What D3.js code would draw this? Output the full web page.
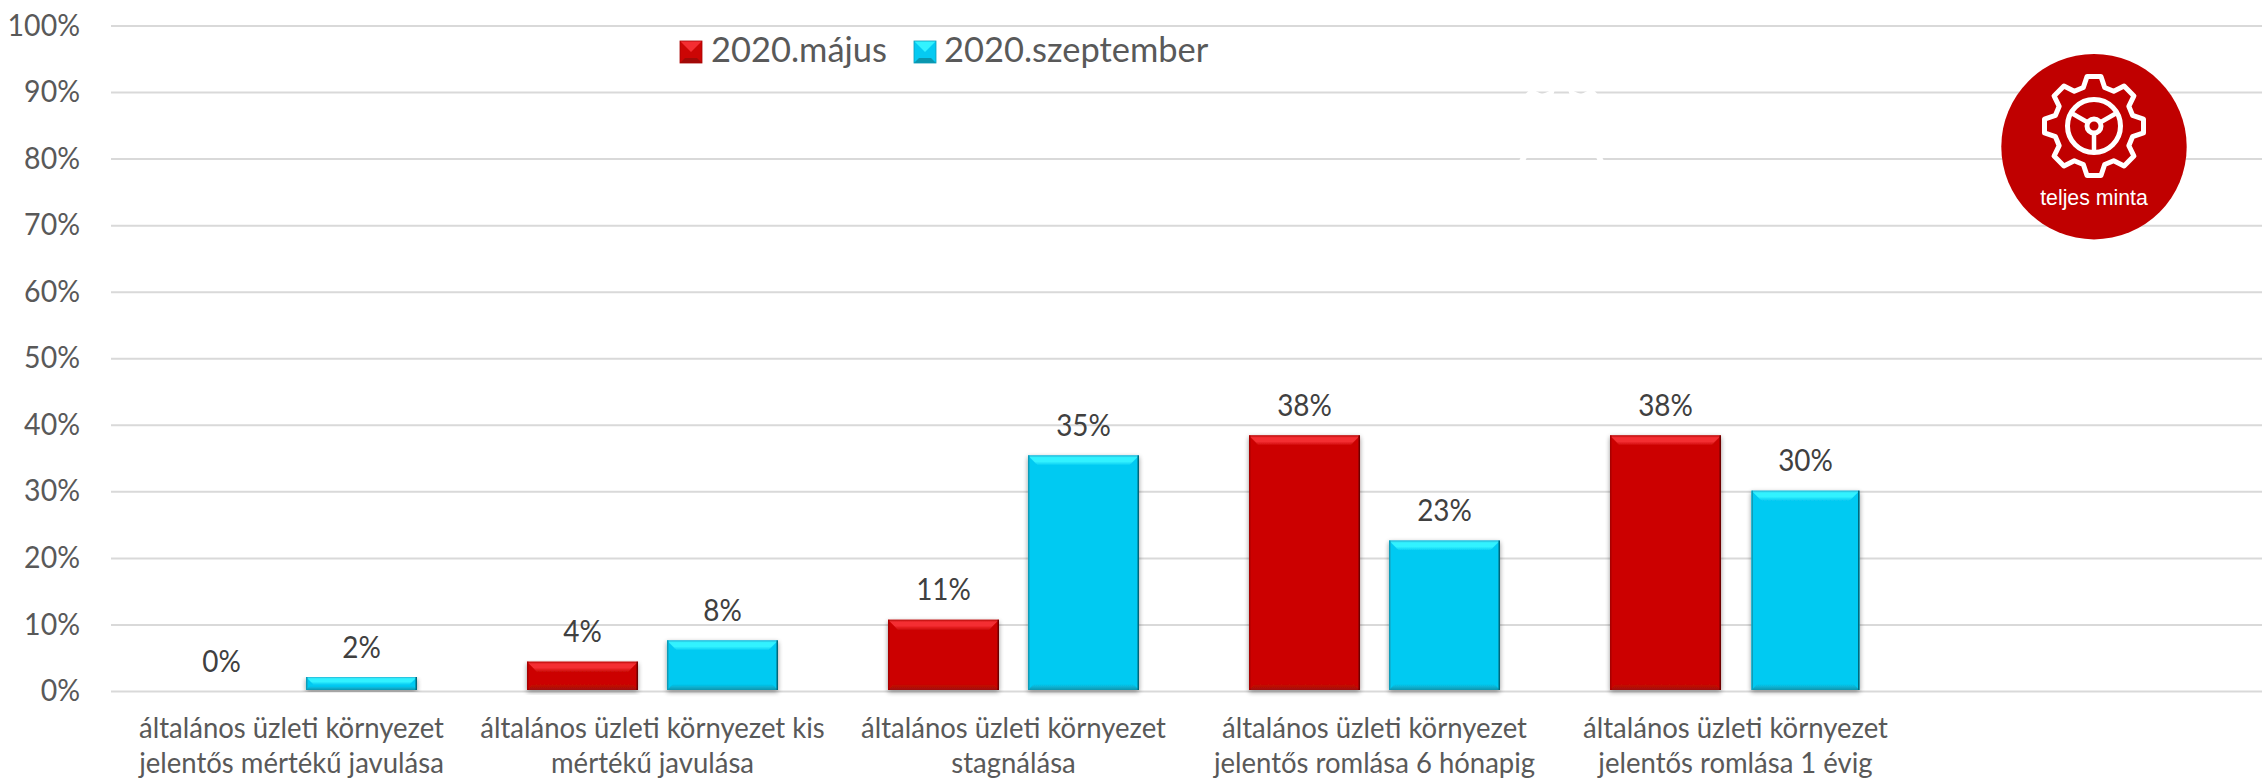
<!DOCTYPE html>
<html>
<head>
<meta charset="utf-8">
<script src="https://cdn.jsdelivr.net/npm/d3@7"></script>
<style>
html,body{margin:0;padding:0;background:#fff}
svg{display:block}
text{font-family:Lato,"Open Sans",sans-serif}
</style>
</head>
<body>
<div id="chart"></div>
<script>
const categories = [
  ["általános üzleti környezet","jelentős mértékű javulása"],
  ["általános üzleti környezet kis","mértékű javulása"],
  ["általános üzleti környezet","stagnálása"],
  ["általános üzleti környezet","jelentős romlása 6 hónapig"],
  ["általános üzleti környezet","jelentős romlása 1 évig"]
];
const seriesNames = ["2020.május","2020.szeptember"];
const may = [0, 4.4, 10.7, 38.4, 38.4];
const september = [2.1, 7.6, 35.4, 22.6, 30.1];
const yTicks = [0,10,20,30,40,50,60,70,80,90,100];
const badgeLabel = "teljes minta";

const W = 2262, H = 779;
const left = 111, top0 = 25.5, bottom0 = 691;
const catStep = 361;
const FONT = 30;

const palette = [
  {base:"#CC0605", edge:"#B80808", hi:"#F42E32", low:"#A00A08", l:"#A80404", r:"#6E0202"},
  {base:"#05CAF2", edge:"#25B5D5", hi:"#33F2FF", low:"#0A96AE", l:"#0C9CB8", r:"#05677C"}
];

const svg = d3.select("#chart").append("svg").attr("width",W).attr("height",H);
const defs = svg.append("defs");

const f = defs.append("filter").attr("id","shadow").attr("x","-10%").attr("y","-10%").attr("width","120%").attr("height","125%");
f.append("feGaussianBlur").attr("in","SourceAlpha").attr("stdDeviation",2.4).attr("result","b");
f.append("feOffset").attr("in","b").attr("dy",2).attr("result","o");
f.append("feComponentTransfer").attr("in","o").attr("result","c").append("feFuncA").attr("type","linear").attr("slope",0.42);
const fm = f.append("feMerge");
fm.append("feMergeNode").attr("in","c");
fm.append("feMergeNode").attr("in","SourceGraphic");

palette.forEach((p,i)=>{
  const g = defs.append("linearGradient").attr("id","top"+i).attr("x1",0).attr("x2",0).attr("y1",0).attr("y2",1);
  [[0,p.edge],[0.22,p.hi],[0.6,p.hi],[1,p.base]].forEach(s=>g.append("stop").attr("offset",s[0]).attr("stop-color",s[1]));
  const b = defs.append("linearGradient").attr("id","bot"+i).attr("x1",0).attr("x2",0).attr("y1",0).attr("y2",1);
  [[0,p.base],[1,p.low]].forEach(s=>b.append("stop").attr("offset",s[0]).attr("stop-color",s[1]));
});

const x = d3.scaleBand().domain(d3.range(categories.length)).range([left,left+catStep*categories.length]);
const y = d3.scaleLinear().domain([0,100]).range([bottom0,top0]);
const inner = d3.scaleBand().domain([0,1]).range([x.bandwidth()/2-125.5,x.bandwidth()/2+125.5]).paddingInner(0.207).paddingOuter(0);

// grid + y axis
const yAxis = d3.axisLeft(y).tickValues(yTicks).tickFormat(d=>d+"%").tickSize(0).tickPadding(0);
const yG = svg.append("g").attr("transform",`translate(${left},0)`).call(yAxis);
yG.select(".domain").remove();
yG.selectAll("text").attr("font-size",FONT).attr("fill","#595959").attr("dy","0.32em").attr("x",null)
  .attr("transform","translate(-31,0) scale(0.95,1)");
yG.selectAll(".tick").append("line").attr("class","grid").attr("x1",0).attr("x2",W-left).attr("stroke","#D9D9D9").attr("stroke-width",2);

// gear helper
function gearPath(R,r){
  const pts=[], n=8;
  for(let i=0;i<n;i++){
    const a=i*2*Math.PI/n;
    [[-0.27,r],[-0.14,R],[0.14,R],[0.27,r]].forEach(p=>pts.push([a+p[0],p[1]]));
  }
  return d3.lineRadial().curve(d3.curveLinearClosed)(pts);
}

// white artefact over the grid
svg.append("path").attr("transform","translate(1561.5,132)").attr("d",gearPath(50,40))
  .attr("fill","none").attr("stroke","#fff").attr("stroke-width",5.5).attr("stroke-linejoin","round");

// bars
function bevelBar(g,d){
  const {bx,by,w,h,s}=d, p=palette[s];
  const t=Math.min(10,h*0.6), u=Math.min(6,h*0.3), c=Math.min(10,t);
  g.append("rect").attr("x",bx).attr("y",by).attr("width",w).attr("height",h).attr("fill",p.base);
  g.append("polygon").attr("points",[[bx,by],[bx+w,by],[bx+w-c,by+t],[bx+c,by+t]].join(" ")).attr("fill",`url(#top${s})`);
  g.append("polygon").attr("points",[[bx,by+h],[bx+w,by+h],[bx+w-u,by+h-u],[bx+u,by+h-u]].join(" ")).attr("fill",`url(#bot${s})`);
  g.append("rect").attr("x",bx).attr("y",by).attr("width",1.5).attr("height",h).attr("fill",p.l);
  g.append("rect").attr("x",bx+w-1.5).attr("y",by).attr("width",1.5).attr("height",h).attr("fill",p.r);
}
const barData=[];
[may,september].forEach((vals,s)=>vals.forEach((v,i)=>{
  let w=inner.bandwidth(), bx=x(i)+inner(s);
  if(s===1 && i===categories.length-1){ bx+=1.5; w-=3; }
  barData.push({v,i,s,bx,w,by:y(v),h:y(0)-1-y(v)});
}));
const bars=svg.append("g").selectAll("g").data(barData.filter(d=>d.v>0)).join("g").attr("filter","url(#shadow)");
bars.each(function(d){bevelBar(d3.select(this),d);});

// value labels
svg.append("g").selectAll("text").data(barData).join("text")
  .attr("transform",d=>`translate(${d.bx+d.w/2},${d.by-19.5}) scale(0.93,1)`)
  .attr("text-anchor","middle").attr("font-size",FONT).attr("fill","#404040")
  .text(d=>d3.format(".0f")(d.v)+"%");

// category axis
const xAxis=d3.axisBottom(x).tickSize(0).tickFormat("");
const xG=svg.append("g").attr("transform",`translate(0,${bottom0})`).call(xAxis);
xG.select(".domain").remove();
xG.selectAll(".tick text").remove();
xG.selectAll(".tick").each(function(i){
  const t=d3.select(this).append("text").attr("text-anchor","middle").attr("font-size",28.5).attr("fill","#595959")
    .attr("transform","scale(0.965,1)");
  categories[i].forEach((line,k)=>t.append("tspan").attr("x",0).attr("y",47.5+k*34.5).text(line));
});

// legend
const lx=[680,914], tx=[711,944];
const lg=svg.append("g");
seriesNames.forEach((n,s)=>{
  const p=palette[s], X=lx[s], Y=41, S=22;
  const g=lg.append("g");
  g.append("rect").attr("x",X).attr("y",Y).attr("width",S).attr("height",S).attr("fill",p.base);
  g.append("polygon").attr("points",[[X,Y],[X+S,Y],[X+S/2,Y+S/2]].join(" ")).attr("fill",p.hi);
  g.append("polygon").attr("points",[[X,Y+S],[X+S,Y+S],[X+S-5,Y+S-5],[X+5,Y+S-5]].join(" ")).attr("fill",p.low);
  g.append("rect").attr("x",X).attr("y",Y).attr("width",S).attr("height",S).attr("fill","none").attr("stroke",p.l).attr("stroke-width",0.8);
  lg.append("text").attr("transform",`translate(${tx[s]},62) scale(0.985,1)`).attr("font-size",35).attr("fill","#595959").text(n);
});

// badge
const cx=2094, cy=146.7;
const b=svg.append("g").attr("transform",`translate(${cx},${cy})`);
b.append("circle").attr("r",92.7).attr("fill","#C00000");
const ic=b.append("g").attr("transform","translate(0,-20.7)").attr("fill","none").attr("stroke","#fff").attr("stroke-width",5).attr("stroke-linejoin","round");
ic.append("path").attr("d",gearPath(50,40));
ic.append("circle").attr("r",26.5);
ic.append("circle").attr("r",7);
[[0,1],[-0.87,-0.5],[0.87,-0.5]].forEach(v=>{
  ic.append("line").attr("x1",v[0]*8).attr("y1",v[1]*8).attr("x2",v[0]*26).attr("y2",v[1]*26).attr("stroke-width",4.5);
});
b.append("text").attr("y",58).attr("text-anchor","middle").attr("font-size",21.3).attr("fill","#fff")
  .style("font-family","'Liberation Sans',Arial,sans-serif").text(badgeLabel);
</script>
</body>
</html>
